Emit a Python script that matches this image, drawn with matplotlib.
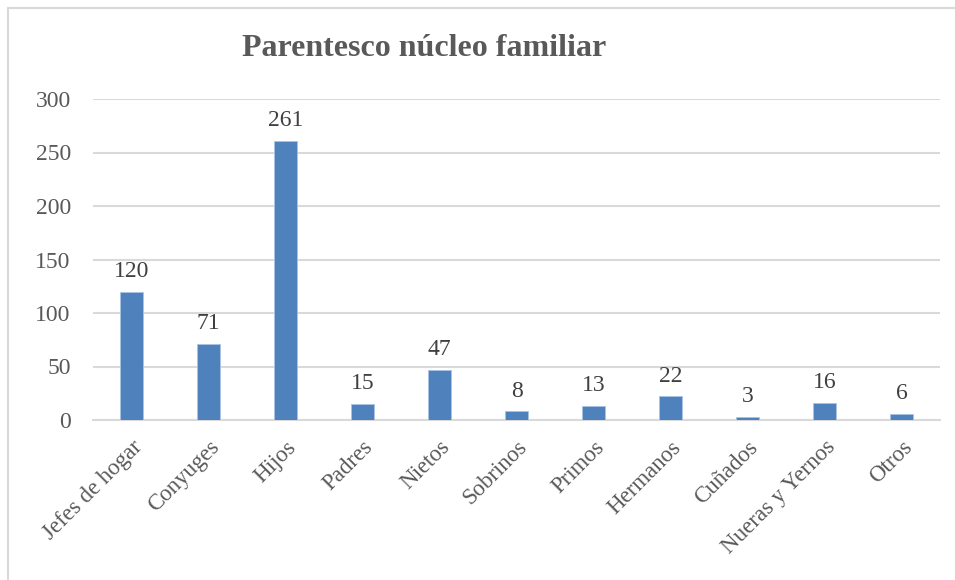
import matplotlib.pyplot as plt
from matplotlib.patches import Rectangle

categorias = ['Jefes de hogar', 'Conyuges', 'Hijos', 'Padres', 'Nietos', 'Sobrinos',
              'Primos', 'Hermanos', 'Cuñados', 'Nueras y Yernos', 'Otros']
valores = [120, 71, 261, 15, 47, 8, 13, 22, 3, 16, 6]
yticks = [0, 50, 100, 150, 200, 250, 300]

W, H = 955, 580
fig = plt.figure(figsize=(W / 100, H / 100), dpi=100)
fig.patch.set_facecolor('white')

# marco del gráfico (solo se ve arriba e izquierda)
fig.patches.append(Rectangle((8 / W, -0.05), 1.2, 1 - 8 / H + 0.05,
                             transform=fig.transFigure, fill=False,
                             edgecolor='#D9D9D9', linewidth=1.5))

ax = fig.add_axes([93 / W, 1 - 420 / H, (940 - 93) / W, (420 - 99) / H])
x = range(len(categorias))
ax.bar(x, valores, width=0.31, color='#4F81BD', edgecolor='#A9C4E4',
       linewidth=0.6, zorder=3)

for i, v in zip(x, valores):
    ax.text(i, v + 9, str(v), ha='center', va='bottom', fontsize=17,
            family='Liberation Serif', color='#404040')

ax.set_xlim(-0.5, len(categorias) - 0.5)
ax.set_ylim(0, 300)
ax.set_yticks(yticks)
ax.set_yticklabels([str(t) for t in yticks], family='Liberation Serif',
                   fontsize=17, color='#595959')
ax.set_xticks(list(x))
ax.set_xticklabels(categorias, rotation=45, ha='right', rotation_mode='anchor',
                   family='Liberation Serif', fontsize=16.5, color='#595959')
ax.tick_params(axis='y', length=0, pad=16)
ax.tick_params(axis='x', length=0, pad=12)
ax.grid(axis='y', color='#D9D9D9', linewidth=1.5, zorder=0)
for s in ['top', 'right', 'left']:
    ax.spines[s].set_visible(False)
ax.spines['bottom'].set_color('#D9D9D9')
ax.spines['bottom'].set_linewidth(1.5)

fig.text(424 / W, 1 - 49 / H, 'Parentesco núcleo familiar', ha='center',
         va='center', fontsize=23, fontweight='bold', family='Liberation Serif',
         color='#595959')

fig.savefig('out.png', dpi=100)
